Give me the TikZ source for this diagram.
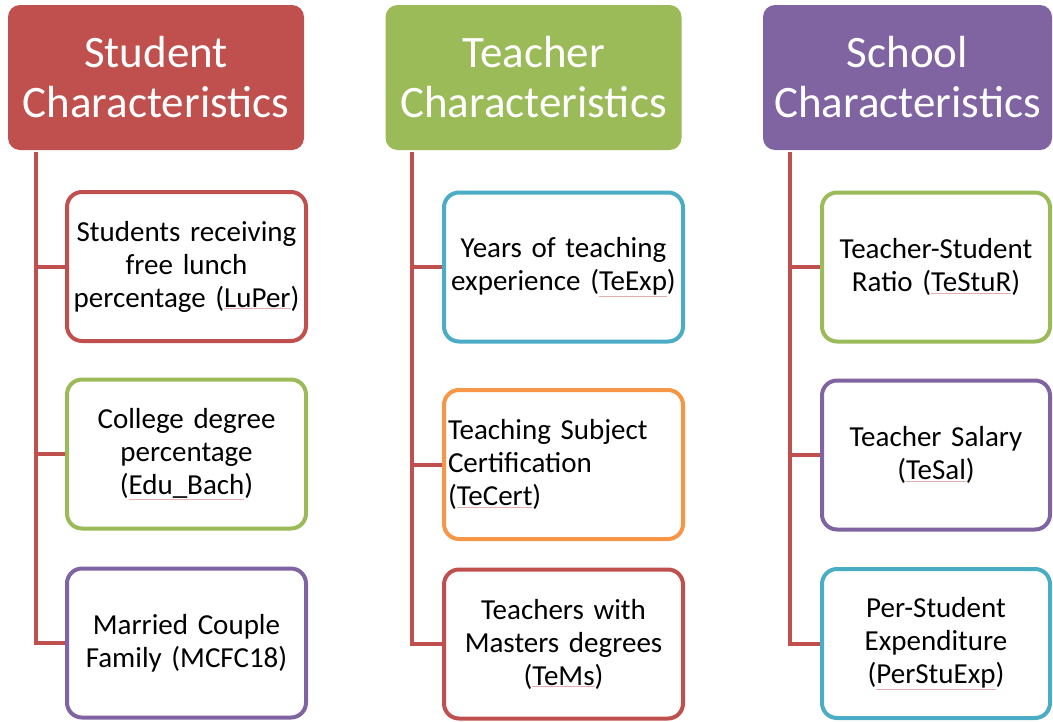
\documentclass[tikz,border=0pt]{standalone}
\usepackage{fontspec}
\setmainfont{Carlito}
\usepackage{tikz}
\usetikzlibrary{positioning,calc}
\definecolor{accred}{HTML}{C0504D}
\definecolor{accgreen}{HTML}{9BBB59}
\definecolor{accpurple}{HTML}{8064A2}
\definecolor{accblue}{HTML}{4BACC6}
\definecolor{accorange}{HTML}{F79646}
\newcommand{\spellchk}[1]{{\color{accred!45}\underline{\color{black}#1}}}

\begin{document}
\begin{tikzpicture}[x=1pt,y=1pt,
		head/.style={fill=#1, rounded corners=12pt, minimum width=296pt, minimum height=145pt,
			text=white, align=center, inner sep=0pt, font=\fontsize{45}{50}\selectfont},
		item/.style={draw=#1, line width=4pt, rounded corners=15pt, minimum width=239pt, minimum height=149pt,
			text width=231pt, inner xsep=4pt, align=center, font=\fontsize{29}{33}\selectfont},
		link/.style={draw=accred, line width=4pt},
	]
	\useasboundingbox (0,0) rectangle (1053,-721);

	% headings
	\node[head=accred]    (stuh) at (156,-77.5)   {Student\\Characteristics};
	\node[head=accgreen]  (teah) at (533.5,-77.5) {Teacher\\Characteristics};
	\node[head=accpurple, minimum width=289pt] (schh) at (907.5,-77.5) {School\\Characteristics};

	% student column
	\node[item=accred]    (stu1) at (186.5,-266.5) {Students receiving\\free lunch\\percentage (\spellchk{LuPer})};
	\node[item=accgreen]  (stu2) at (186.5,-454)   {College degree\\percentage\\(\spellchk{Edu\_Bach})};
	\node[item=accpurple] (stu3) at (186.5,-643)   {Married Couple\\Family (MCFC18)};

	% teacher column
	\node[item=accblue]   (tea1) at (563.5,-267)   {Years of teaching\\experience (\spellchk{TeExp})};
	\node[item=accorange, align=left] (tea2) at (563.5,-464.5) {Teaching Subject\\Certification\\(\spellchk{TeCert})};
	\node[item=accred]    (tea3) at (563.5,-644)   {Teachers with\\Masters degrees\\(\spellchk{TeMs})};

	% school column
	\node[item=accgreen,  minimum width=228pt, text width=220pt] (sch1) at (936,-267)   {Teacher-Student\\Ratio (\spellchk{TeStuR})};
	\node[item=accpurple, minimum width=228pt, text width=220pt] (sch2) at (936,-455)   {Teacher Salary\\(\spellchk{TeSal})};
	\node[item=accblue,   minimum width=228pt, text width=220pt] (sch3) at (936,-643.5) {Per-Student\\Expenditure\\(\spellchk{PerStuExp})};

	\coordinate (stutop) at ($(stuh.south west)+(28,-2)$);
	\coordinate (teatop) at ($(teah.south west)+(27,-2)$);
	\coordinate (schtop) at ($(schh.south west)+(27,-2)$);

	\foreach \c in {stu,tea,sch} {
		\draw[link] (\c top) |- (\c3.west);
		\foreach \r in {1,2}
			\draw[link] (\c top |- \c\r.west) -- (\c\r.west);
	}
\end{tikzpicture}
\end{document}
